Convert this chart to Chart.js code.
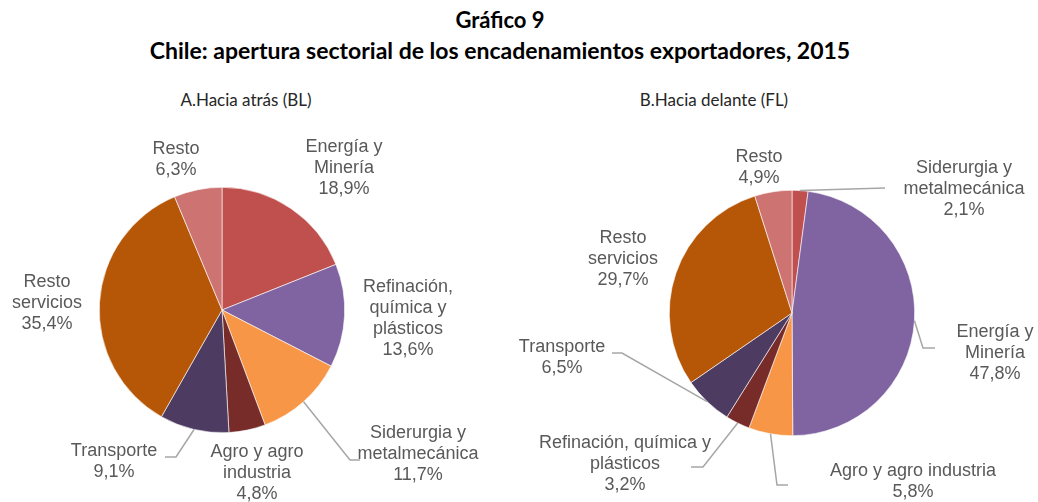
<!DOCTYPE html>
<html>
<head>
<meta charset="utf-8">
<script src="https://cdn.jsdelivr.net/npm/chart.js@4.4.1/dist/chart.umd.min.js"></script>
<style>
  body { margin: 0; background: #fff; width: 1038px; height: 502px; overflow: hidden; position: relative; }
  .title { position: absolute; left: 0; width: 1000px; text-align: center; font-family: Lato, sans-serif; font-weight: bold; color: #000; line-height: 28px; }
  .sub { position: absolute; font-family: Lato, sans-serif; font-size: 17px; color: #262626; transform: translateX(-50%); white-space: nowrap; }
  .pie { position: absolute; top: 110px; width: 519px; height: 392px; }
</style>
</head>
<body>
<div class="title" style="top:6px;font-size:22px;">Gráfico 9</div>
<div class="title" style="top:36px;font-size:23px;">Chile: apertura sectorial de los encadenamientos exportadores, 2015</div>
<div class="sub" style="left:246px;top:89px;">A.Hacia atrás (BL)</div>
<div class="sub" style="left:714px;top:89px;">B.Hacia delante (FL)</div>
<div class="pie" style="left:0"><canvas id="pieA"></canvas></div>
<div class="pie" style="left:519px"><canvas id="pieB"></canvas></div>
<script>
// Data
const categoriesBL = ['Energía y Minería', 'Refinación, química y plásticos', 'Siderurgia y metalmecánica',
  'Agro y agro industria', 'Transporte', 'Resto servicios', 'Resto'];
const valuesBL = [18.9, 13.6, 11.7, 4.8, 9.1, 35.4, 6.3];

const categoriesFL = ['Siderurgia y metalmecánica', 'Energía y Minería', 'Agro y agro industria',
  'Refinación, química y plásticos', 'Transporte', 'Resto servicios', 'Resto'];
const valuesFL = [2.1, 47.8, 5.8, 3.2, 6.5, 29.7, 4.9];

const sliceColors = ['#C0504D', '#8064A2', '#F79646', '#772C2A', '#4D3B62', '#B65708', '#CD7371'];

// Label placement (canvas coords): x center, y of first line, wrap width, optional leader elbow/end
const layoutBL = [
  { x: 344, y: 37, w: 90 },
  { x: 408, y: 177, w: 100 },
  { x: 418, y: 323, w: 125, elbow: [350, 350], end: [360, 350] },
  { x: 257, y: 342, w: 100 },
  { x: 114, y: 341, w: 100, elbow: [176, 347], end: [165, 347] },
  { x: 47, y: 172, w: 80 },
  { x: 176, y: 39, w: 80 }
];
const layoutFL = [
  { x: 445, y: 58, w: 125, elbow: [366, 78], end: [366, 78] },
  { x: 476, y: 222, w: 90, elbow: [404, 238], end: [416, 238] },
  { x: 394, y: 361, w: 220, elbow: [258, 375], end: [269, 375] },
  { x: 106, y: 333, w: 190, elbow: [184, 357], end: [172, 357] },
  { x: 43, y: 237, w: 100, elbow: [103, 243], end: [93, 243] },
  { x: 104, y: 128, w: 80 },
  { x: 240, y: 47, w: 80 }
];

const LABEL_FONT = '18px "Liberation Sans", Arial, sans-serif';
const LINE_H = 21;

function wrapText(ctx, text, maxW) {
  const words = text.split(' ');
  const lines = [];
  let cur = '';
  words.forEach(word => {
    const test = cur ? cur + ' ' + word : word;
    if (cur && ctx.measureText(test).width > maxW) {
      lines.push(cur);
      cur = word;
    } else {
      cur = test;
    }
  });
  if (cur) lines.push(cur);
  return lines;
}

const outsideLabels = {
  id: 'outsideLabels',
  afterDatasetsDraw(chart, args, opts) {
    const ctx = chart.ctx;
    const meta = chart.getDatasetMeta(0);
    const values = chart.data.datasets[0].data;
    ctx.save();
    ctx.font = LABEL_FONT;
    meta.data.forEach((arc, i) => {
      const lay = opts.layout[i];
      // leader line from the middle of the arc's outer edge
      if (lay.elbow) {
        const mid = (arc.startAngle + arc.endAngle) / 2;
        const sx = arc.x + Math.cos(mid) * arc.outerRadius;
        const sy = arc.y + Math.sin(mid) * arc.outerRadius;
        ctx.strokeStyle = '#A6A6A6';
        ctx.lineWidth = 1.5;
        ctx.beginPath();
        ctx.moveTo(sx, sy);
        ctx.lineTo(lay.elbow[0], lay.elbow[1]);
        ctx.lineTo(lay.end[0], lay.end[1]);
        ctx.stroke();
      }
      const lines = wrapText(ctx, chart.data.labels[i], lay.w);
      lines.push(values[i].toFixed(1).replace('.', ',') + '%');
      ctx.fillStyle = '#595959';
      ctx.textAlign = 'center';
      ctx.textBaseline = 'middle';
      lines.forEach((line, k) => ctx.fillText(line, lay.x, lay.y + k * LINE_H));
    });
    ctx.restore();
  }
};

function makePie(id, labels, values, layout, padding) {
  const ctx = document.getElementById(id).getContext('2d');
  return new Chart(ctx, {
    type: 'pie',
    data: {
      labels: labels,
      datasets: [{
        data: values,
        backgroundColor: sliceColors,
        borderColor: '#ffffff',
        borderWidth: 0.6
      }]
    },
    options: {
      responsive: true,
      maintainAspectRatio: false,
      animation: false,
      layout: { padding: padding },
      plugins: {
        legend: { display: false },
        tooltip: { enabled: false },
        outsideLabels: { layout: layout }
      }
    },
    plugins: [outsideLabels]
  });
}

makePie('pieA', categoriesBL, valuesBL, layoutBL, { left: 99, right: 174, top: 77, bottom: 69 });
makePie('pieB', categoriesFL, valuesFL, layoutFL, { left: 150, right: 123, top: 80, bottom: 66 });
</script>
</body>
</html>
